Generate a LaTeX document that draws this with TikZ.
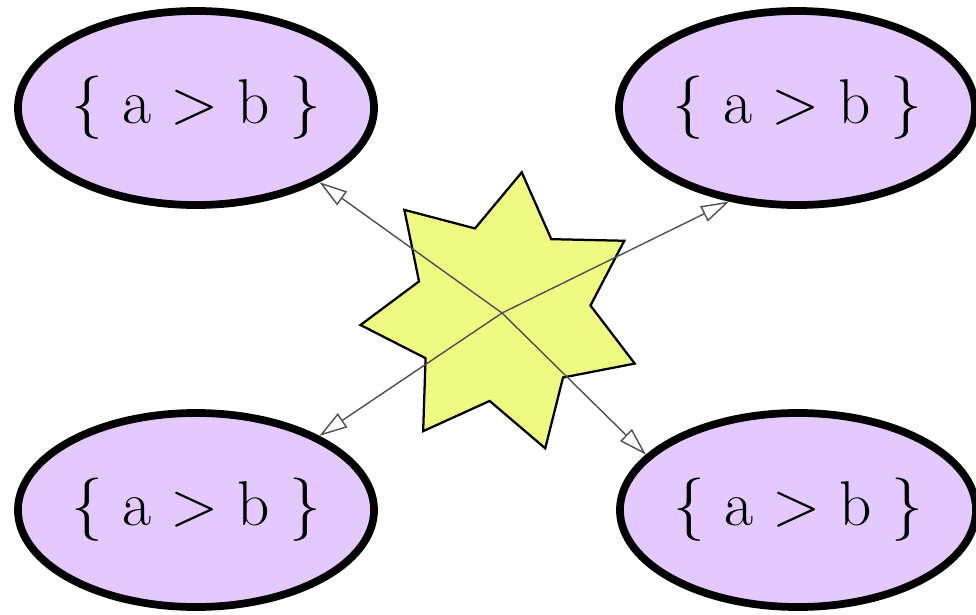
\documentclass[tikz,border=0pt]{standalone}
\usepackage{fontspec}
\usepackage{xcolor}
\usepackage{tikz}
\usetikzlibrary{arrows.meta,shapes.geometric}
\definecolor{lilac}{HTML}{E3C9FE}
\definecolor{lime}{HTML}{EEFA82}
\definecolor{wire}{HTML}{505050}

\begin{document}
\begin{tikzpicture}[x=0.025cm,y=-0.025cm,
  cond/.style={ellipse,draw,line width=5.5pt,fill=lilac,minimum width=8.9cm,minimum height=4.85cm,inner sep=0pt,font=\fontsize{45}{52}\selectfont},
  burst/.style={star,star points=7,star point ratio=1.6,shape border rotate=-8,draw,line width=1.6pt,fill=lime,minimum size=7.1cm,inner sep=0pt},
  link/.style={-{Triangle[open,length=0.7cm,width=0.42cm]},wire,line width=1pt}]
  \useasboundingbox (0,0) rectangle (976,614);
  \node[burst] (hub) at (502,313) {};
  \node[cond] (nw) at (196,108) {\{ a > b \}};
  \node[cond] (ne) at (797,108) {\{ a > b \}};
  \node[cond] (sw) at (196,510) {\{ a > b \}};
  \node[cond] (se) at (798,510) {\{ a > b \}};
  % connectors from the hub
  \draw[link] (hub.center) -- (nw.329);
  \draw[link] (hub.center) -- (ne.234);
  \draw[link] (hub.center) -- (sw.31);
  \draw[link] (hub.center) -- (se.160);
\end{tikzpicture}
\end{document}
